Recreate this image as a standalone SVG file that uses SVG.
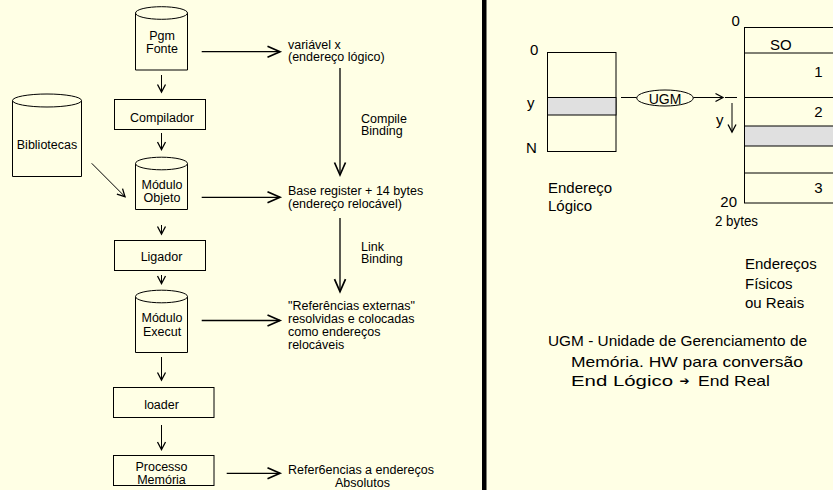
<svg xmlns="http://www.w3.org/2000/svg" width="833" height="490" viewBox="0 0 833 490">
<style>
.l{font-family:"Liberation Sans",Arial,sans-serif;font-size:12.5px;fill:#000}
.r{font-family:"Liberation Sans",Arial,sans-serif;font-size:15px;fill:#000}
.c{text-anchor:middle}
.s{fill:#ffffe5;stroke:#000;stroke-width:1}
.g{fill:#e0e0e0;stroke:#000;stroke-width:1}
.k{fill:none;stroke:#000;stroke-width:1}
.kb{fill:none;stroke:#000;stroke-width:1.3}
</style>
<defs>
<marker id="big" markerUnits="userSpaceOnUse" markerWidth="18" markerHeight="16" refX="14" refY="7" orient="auto" overflow="visible">
<path d="M1.5,1.5 L14,7 L1.5,12.5" fill="none" stroke="#000" stroke-width="1.7" stroke-linejoin="miter"/>
</marker>
<marker id="sm" markerUnits="userSpaceOnUse" markerWidth="12" markerHeight="12" refX="8" refY="4.5" orient="auto" overflow="visible">
<path d="M0.5,0.5 L8,4.5 L0.5,8.5" fill="none" stroke="#000" stroke-width="1.3"/>
</marker>
</defs>
<rect x="0" y="0" width="833" height="490" fill="#ffffe5"/>
<rect id="divider" x="482" y="0" width="4.5" height="490" fill="#000"/>

<g id="pgm-fonte">
<path class="s" d="M135.5,13 V70 H187.5 V13"/>
<ellipse class="s" cx="161.5" cy="13" rx="26" ry="6.3"/>
<text class="l c" x="162" y="39.5">Pgm</text>
<text class="l c" x="162" y="53">Fonte</text>
</g>
<g id="compilador">
<rect class="s" x="114.5" y="99.5" width="91" height="30"/>
<text class="l c" x="162" y="121.5">Compilador</text>
</g>
<g id="bibliotecas">
<path class="s" d="M12.5,100.5 V176.5 H81.5 V100.5"/>
<ellipse class="s" cx="47" cy="100.5" rx="34.5" ry="6.5"/>
<text class="l c" x="47" y="149">Bibliotecas</text>
</g>
<g id="modulo-objeto">
<path class="s" d="M135.5,163.5 V209.5 H187.5 V163.5"/>
<ellipse class="s" cx="161.5" cy="163.5" rx="26" ry="6.3"/>
<text class="l c" x="162" y="188.5">Módulo</text>
<text class="l c" x="162" y="202">Objeto</text>
</g>
<g id="ligador">
<rect class="s" x="114.5" y="240.5" width="91" height="30"/>
<text class="l c" x="161.5" y="260.5">Ligador</text>
</g>
<g id="modulo-execut">
<path class="s" d="M135.5,296.5 V352.5 H187.5 V296.5"/>
<ellipse class="s" cx="161.5" cy="296.5" rx="26" ry="6.3"/>
<text class="l c" x="162" y="322">Módulo</text>
<text class="l c" x="162" y="335.5">Execut</text>
</g>
<g id="loader">
<rect class="s" x="113.5" y="387.5" width="100.5" height="30"/>
<text class="l c" x="161.5" y="408.5">loader</text>
</g>
<g id="processo-memoria">
<rect class="s" x="113.5" y="455.5" width="100.5" height="30"/>
<text class="l c" x="161.5" y="470.5">Processo</text>
<text class="l c" x="161.5" y="483.5">Memória</text>
</g>

<g id="notes-left">
<text class="l" x="288" y="48.5">variável x</text>
<text class="l" x="288" y="61">(endereço lógico)</text>
<text class="l" x="361" y="122.5">Compile</text>
<text class="l" x="361" y="135">Binding</text>
<text class="l" x="288" y="194.5">Base register + 14 bytes</text>
<text class="l" x="288" y="207.5">(endereço relocável)</text>
<text class="l" x="361" y="250.5">Link</text>
<text class="l" x="361" y="263">Binding</text>
<text class="l" x="288" y="310">"Referências externas"</text>
<text class="l" x="288" y="323">resolvidas e colocadas</text>
<text class="l" x="288" y="336">como endereços</text>
<text class="l" x="288" y="349">relocáveis</text>
<text class="l" x="288" y="473.5">Refer6encias a endereços</text>
<text class="l" x="335" y="486.5">Absolutos</text>
</g>

<g id="connectors">
<path class="kb" d="M201.7,51.7 H280" marker-end="url(#big)"/>
<path class="k" d="M161.5,75 V92" marker-end="url(#sm)"/>
<path class="k" d="M161.5,133 V149.5" marker-end="url(#sm)"/>
<path class="k" d="M91.7,163.3 L125,196.7" marker-end="url(#sm)"/>
<path class="kb" d="M201.7,197.3 H280" marker-end="url(#big)"/>
<path class="k" d="M161.5,225 V234" marker-end="url(#sm)"/>
<path class="k" d="M161.5,275 V283.5" marker-end="url(#sm)"/>
<path class="kb" d="M201.7,320.5 H280" marker-end="url(#big)"/>
<path class="k" d="M161.5,357 V380" marker-end="url(#sm)"/>
<path class="k" d="M161.5,425 V449.5" marker-end="url(#sm)"/>
<path class="kb" d="M226.7,473.3 H280" marker-end="url(#big)"/>
<path class="kb" d="M340,68 V175" marker-end="url(#big)"/>
<path class="kb" d="M340,218 V291.7" marker-end="url(#big)"/>
<path class="k" d="M621,97.5 H636.7"/>
<path class="k" d="M693.3,97.5 H723" marker-end="url(#sm)"/>
<path class="k" d="M725,97.5 H737"/>
<path class="k" d="M732,103 V132" marker-end="url(#sm)"/>
</g>

<g id="endereco-logico">
<rect class="s" x="547.5" y="52.5" width="68.5" height="99"/>
<rect class="g" x="547.5" y="97.5" width="68.5" height="17.5"/>
<text class="r" x="530" y="55">0</text>
<text class="r" x="527" y="108">y</text>
<text class="r" x="526" y="152.5">N</text>
<text class="r" x="548" y="192.5">Endereço</text>
<text class="r" x="548" y="211">Lógico</text>
</g>
<g id="ugm">
<ellipse class="s" cx="665" cy="98" rx="28.3" ry="8"/>
<text class="r c" x="665" y="104" style="font-size:14px">UGM</text>
</g>
<g id="memoria-fisica">
<rect class="s" x="744.5" y="27.5" width="100" height="175.5"/>
<path class="k" d="M744.5,53 H840 M744.5,97.5 H840 M744.5,173 H840"/>
<rect class="g" x="744.5" y="126" width="100" height="20"/>
<text class="r" x="731.5" y="26">0</text>
<text class="r" x="770" y="50">SO</text>
<text class="r c" x="818.5" y="77">1</text>
<text class="r c" x="818.5" y="116.5">2</text>
<text class="r c" x="818.5" y="192.5">3</text>
<text class="r" x="737" y="207.3" text-anchor="end">20</text>
<text class="r" x="715" y="225.5" textLength="43" lengthAdjust="spacingAndGlyphs">2 bytes</text>
<text class="r" x="716" y="124.5">y</text>
<text class="r" x="745" y="268.7">Endereços</text>
<text class="r" x="745" y="288.5">Físicos</text>
<text class="r" x="745" y="308.3">ou Reais</text>
</g>
<g id="legenda">
<text class="r" x="548" y="346" textLength="259" lengthAdjust="spacingAndGlyphs">UGM - Unidade de Gerenciamento de</text>
<text class="r" x="571" y="366.5" textLength="232" lengthAdjust="spacingAndGlyphs">Memória. HW para conversão</text>
<text class="r" x="571" y="385.7" textLength="102" lengthAdjust="spacingAndGlyphs">End Lógico</text>
<text x="679.5" y="385" style="font-family:'DejaVu Sans',sans-serif;font-size:12px">➔</text>
<text class="r" x="698" y="385.7" textLength="72" lengthAdjust="spacingAndGlyphs">End Real</text>
</g>
</svg>
